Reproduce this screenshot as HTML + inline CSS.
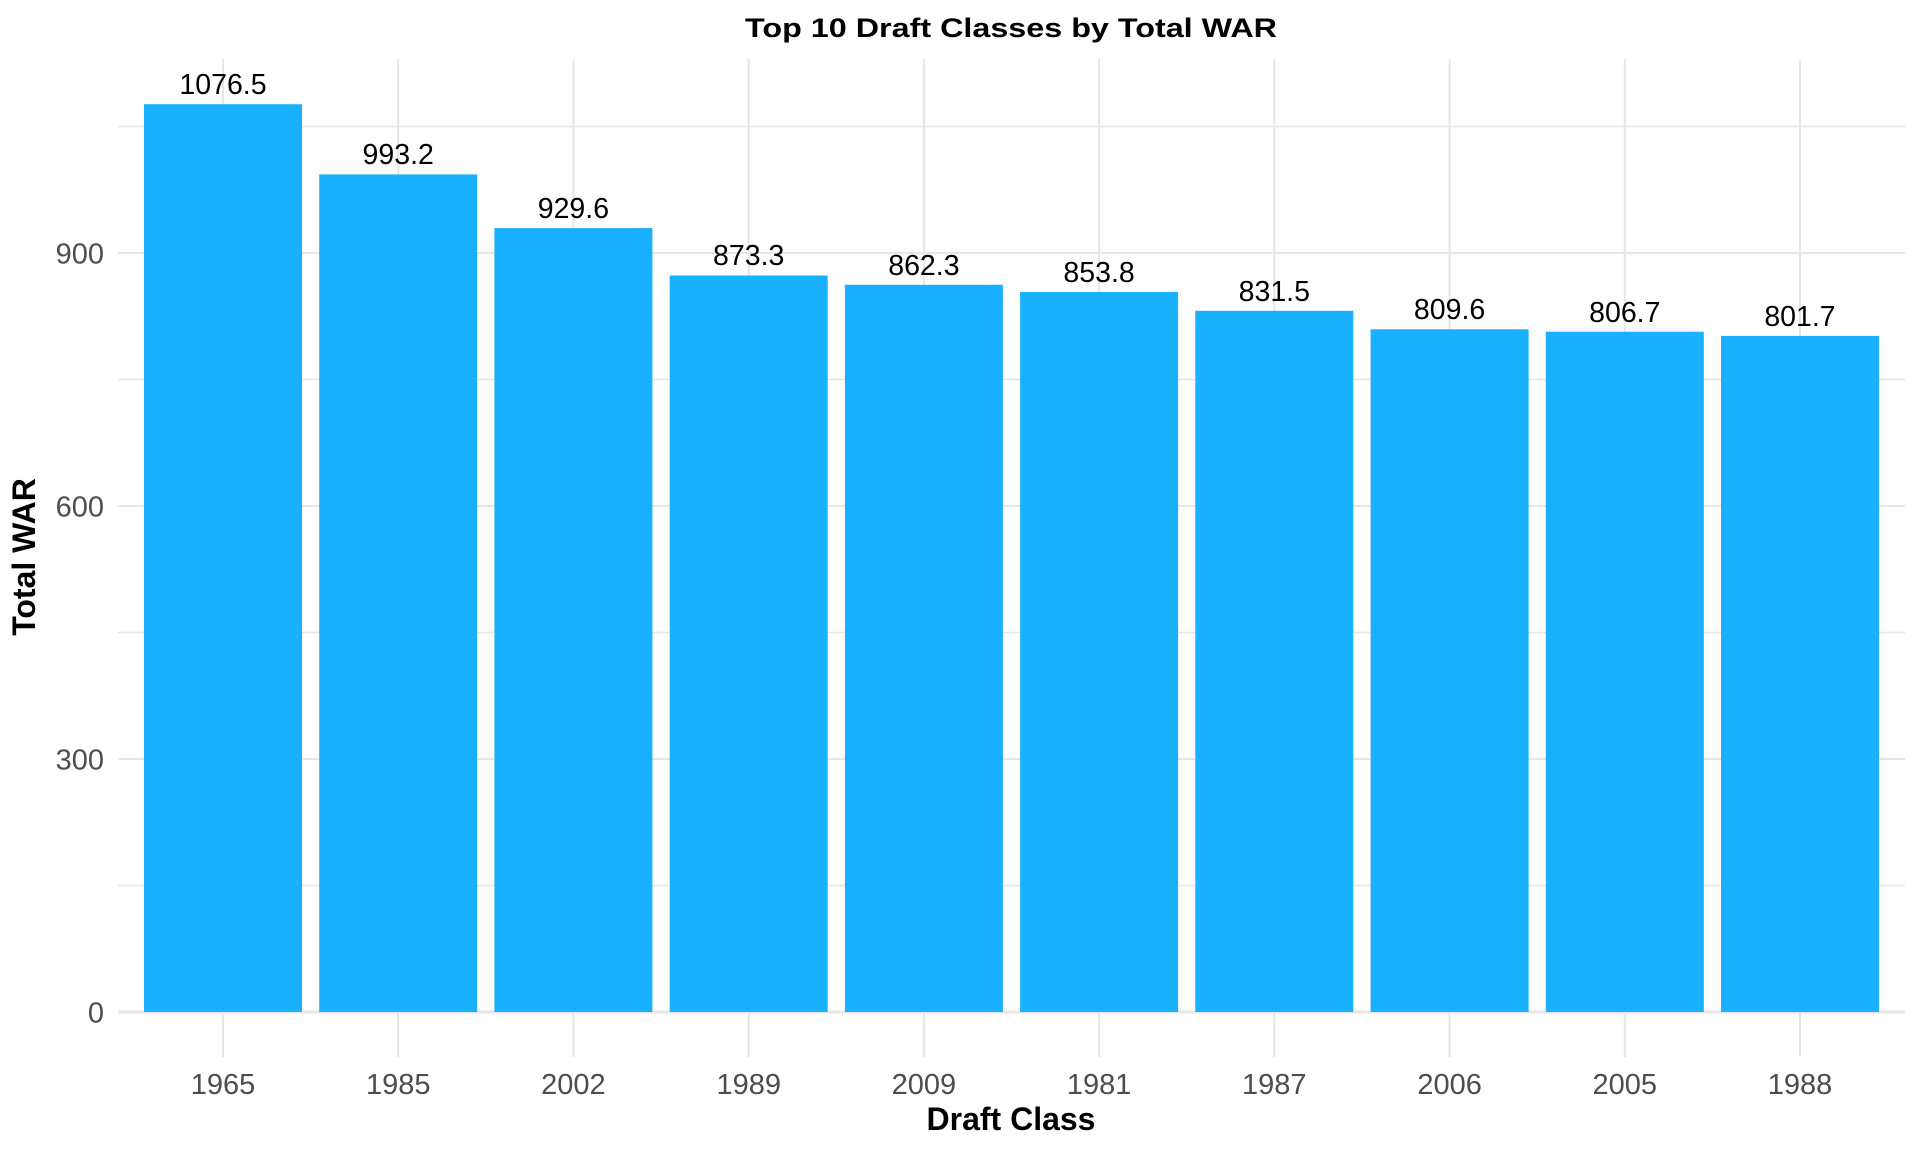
<!DOCTYPE html>
<html><head><style>body{margin:0;background:#fff}svg{display:block}</style></head>
<body>
<svg width="1920" height="1152" xmlns="http://www.w3.org/2000/svg" font-family="Liberation Sans, Arial, sans-serif">
<g stroke="#e6e6e6" stroke-width="2">
<line x1="118" x2="1905" y1="1012" y2="1012" stroke-width="3"/>
<line x1="118" x2="1905" y1="885.5" y2="885.5" stroke-width="1.5"/>
<line x1="118" x2="1905" y1="759" y2="759"/>
<line x1="118" x2="1905" y1="632.5" y2="632.5" stroke-width="1.5"/>
<line x1="118" x2="1905" y1="506" y2="506"/>
<line x1="118" x2="1905" y1="379.5" y2="379.5" stroke-width="1.5"/>
<line x1="118" x2="1905" y1="253" y2="253"/>
<line x1="118" x2="1905" y1="126.5" y2="126.5" stroke-width="1.5"/>
<line x1="223" x2="223" y1="59" y2="1057"/>
<line x1="398.2" x2="398.2" y1="59" y2="1057"/>
<line x1="573.4" x2="573.4" y1="59" y2="1057"/>
<line x1="748.7" x2="748.7" y1="59" y2="1057"/>
<line x1="923.9" x2="923.9" y1="59" y2="1057"/>
<line x1="1099.1" x2="1099.1" y1="59" y2="1057"/>
<line x1="1274.3" x2="1274.3" y1="59" y2="1057"/>
<line x1="1449.6" x2="1449.6" y1="59" y2="1057"/>
<line x1="1624.8" x2="1624.8" y1="59" y2="1057"/>
<line x1="1800" x2="1800" y1="59" y2="1057"/>
</g>
<g fill="#19b0fd">
<rect x="144" y="104.2" width="158" height="907.8"/>
<rect x="319.2" y="174.4" width="158" height="837.6"/>
<rect x="494.4" y="228.1" width="158" height="783.9"/>
<rect x="669.7" y="275.5" width="158" height="736.5"/>
<rect x="844.9" y="284.8" width="158" height="727.2"/>
<rect x="1020.1" y="292" width="158" height="720"/>
<rect x="1195.3" y="310.8" width="158" height="701.2"/>
<rect x="1370.6" y="329.3" width="158" height="682.7"/>
<rect x="1545.8" y="331.7" width="158" height="680.3"/>
<rect x="1721" y="335.9" width="158" height="676.1"/>
</g>
<g font-size="28.5" fill="#000" text-anchor="middle">
<text x="223" y="94">1076.5</text>
<text x="398.2" y="164">993.2</text>
<text x="573.4" y="218">929.6</text>
<text x="748.7" y="265">873.3</text>
<text x="923.9" y="275">862.3</text>
<text x="1099.1" y="282">853.8</text>
<text x="1274.3" y="301">831.5</text>
<text x="1449.6" y="319">809.6</text>
<text x="1624.8" y="322">806.7</text>
<text x="1800" y="326">801.7</text>
</g>
<g font-size="29" fill="#4d4d4d" text-anchor="middle">
<text x="223" y="1094">1965</text>
<text x="398.2" y="1094">1985</text>
<text x="573.4" y="1094">2002</text>
<text x="748.7" y="1094">1989</text>
<text x="923.9" y="1094">2009</text>
<text x="1099.1" y="1094">1981</text>
<text x="1274.3" y="1094">1987</text>
<text x="1449.6" y="1094">2006</text>
<text x="1624.8" y="1094">2005</text>
<text x="1800" y="1094">1988</text>
</g>
<g font-size="29" fill="#4d4d4d" text-anchor="end">
<text x="104" y="1022.5">0</text>
<text x="104" y="769.5">300</text>
<text x="104" y="516.5">600</text>
<text x="104" y="263.5">900</text>
</g>
<text x="1011" y="37" font-size="27" font-weight="bold" text-anchor="middle" textLength="532" lengthAdjust="spacingAndGlyphs">Top 10 Draft Classes by Total WAR</text>
<text x="1011" y="1130" font-size="32" font-weight="bold" text-anchor="middle">Draft Class</text>
<text transform="translate(35,557) rotate(-90)" font-size="32" font-weight="bold" text-anchor="middle">Total WAR</text>
</svg>
</body></html>
